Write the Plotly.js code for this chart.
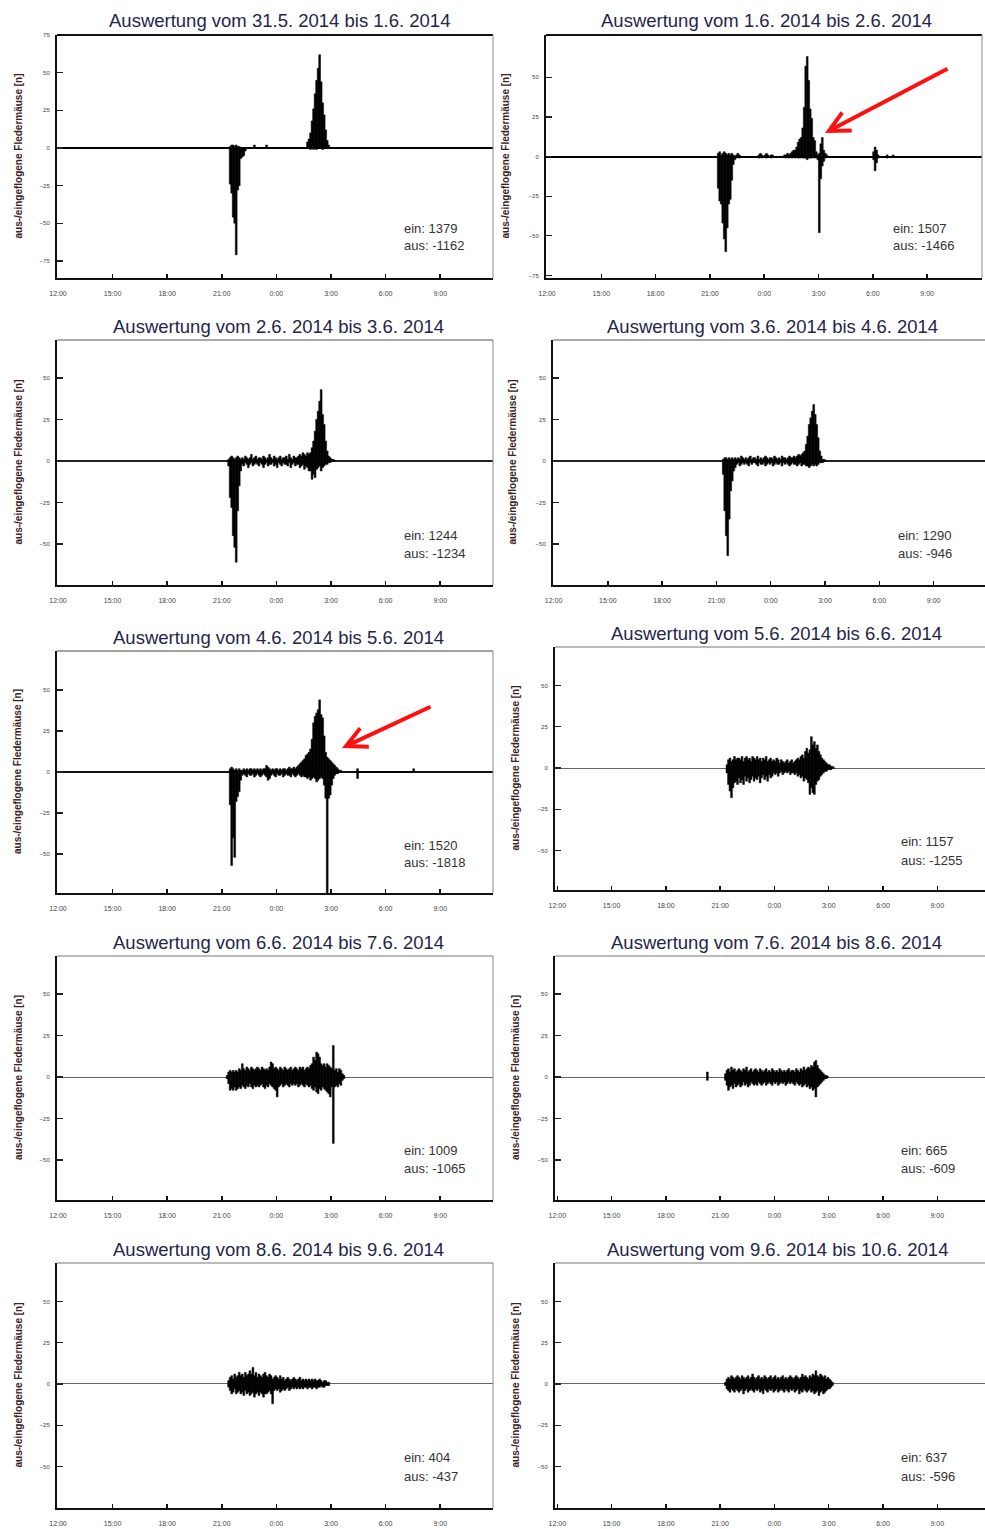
<!DOCTYPE html>
<html><head><meta charset="utf-8">
<script src="https://cdn.plot.ly/plotly-3.0.1.min.js"></script>
<style>html,body{margin:0;padding:0;overflow:hidden;background:#fff}#chart{width:1000px;height:1529px}</style>
</head><body><div id="chart"></div>
<script>
// ---------- data ----------
const tickHours = [0,3,6,9,12,15,18,21];
const tickLabels = ['12:00','15:00','18:00','21:00','0:00','3:00','6:00','9:00'];
const titles = [
 'Auswertung vom 31.5. 2014 bis 1.6. 2014','Auswertung vom 1.6. 2014 bis 2.6. 2014',
 'Auswertung vom 2.6. 2014 bis 3.6. 2014','Auswertung vom 3.6. 2014 bis 4.6. 2014',
 'Auswertung vom 4.6. 2014 bis 5.6. 2014','Auswertung vom 5.6. 2014 bis 6.6. 2014',
 'Auswertung vom 6.6. 2014 bis 7.6. 2014','Auswertung vom 7.6. 2014 bis 8.6. 2014',
 'Auswertung vom 8.6. 2014 bis 9.6. 2014','Auswertung vom 9.6. 2014 bis 10.6. 2014'];
const einTotals = [1379,1507,1244,1290,1520,1157,1009,665,404,637];
const ausTotals = [-1162,-1466,-1234,-946,-1818,-1255,-1065,-609,-437,-596];
const yLabel = 'aus-/eingeflogene Fledermäuse [n]';

// 5-minute bins, starting at the given clock time
const p1_start = '21:25';
const p1_ein = [1,2,2,1,2,1,1,0,0,0,0, 0,0,0,0,0,2,0,0,0,0,0,0,0,2,0,0,0,0,0,0, 0,0,0,0,0,0,0,0,0,0,0,0,0,0,0,0,0,0,0,0, 4,6,10,18,26,36,45,53,62,44,30,22,12,5,2];
const p1_aus = [-24,-30,-46,-50,-71,-28,-25,-7,-6,-5,-2, 0,0,0,0,0,0,0,0,0,0,0,0,0,0,0,0,0,0,0,0, 0,0,0,0,0,0,0,0,0,0,0,0,0,0,0,0,0,0,0,0, 0,0,-1,0,-1,0,-1,0,0,0,-1,0,0,0,0];

const p2_start = '21:25';
const p2_ein = [2,3,1,2,3,2,1,2,1,2,1,0, 1,2,1,0,0,0,0,0,0,0,0,0,0,0,0, 1,2,1,0,1,2,1,0,1,1,0, 0,0,0,0,0,0, 1,1,2,1, 2,3,4,4,6,9,11,12,18,31,57,63,48,30,24,12,10,3, 1,2,8,12,4,2,1];
const p2_aus = [-20,-28,-30,-42,-52,-60,-45,-30,-27,-15,-5,-2, -1,0,-1,0,0,0,0,0,0,0,0,0,0,0,0, -1,0,-1,0,0,-1,0,0,-1,0,0, 0,0,0,0,0,0, 0,-1,0,-1, 0,-1,0,-1,0,-1,-1,0,-1,-1,-1,-2,-1,-1,-1,0,-1,0, -2,-48,-14,-6,-3,-1,0];
const p2b_start = '6:00';
const p2b_ein = [3,6,4,1,0,0,0,0,0,1,0,0,0,1];
const p2b_aus = [-2,-9,-4,-1,0,0,0,0,0,-1,0,0,0,0];

const p3_start = '21:20';
const p3_ein = [1,2,3,2,1,2,3,2,1, 2,1,3,2,1,2,4,1,2,3,1,2,2,1,3,2,1,2,4,2,1,3,2,1,2,3,1,2,2,3,1,4,2,1,3,2,2,3,4,3,5,4,3,5,4, 5,8,12,18,25,30,36,43,28,22,12,6,3,2,1,1,0];
const p3_aus = [-3,-22,-28,-45,-52,-61,-30,-15,-6, -2,-3,-1,-2,-4,-2,-1,-3,-2,-1,-2,-3,-1,-2,-4,-2,-1,-3,-2,-2,-1,-3,-2,-4,-1,-2,-3,-1,-2,-2,-3,-1,-4,-2,-1,-3,-2,-2,-4,-3,-2,-5,-3,-4,-6, -6,-11,-8,-10,-5,-4,-3,-6,-4,-3,-2,-2,-1,-1,0,0,0];

const p4_start = '21:20';
const p4_ein = [1,2,2,1,2,1,2,1,2, 1,2,1,3,2,1,2,1,2,3,1,2,2,1,3,1,2,1,2,3,2,1,2,2,1,3,2,1,2,1,3,2,2,1,2,3,2,2,3,2,3,4,3,4,5, 6,10,15,22,26,30,34,28,22,14,6,3,1,1,0];
const p4_aus = [-8,-30,-45,-57,-35,-18,-12,-6,-4, -2,-1,-3,-2,-1,-2,-1,-2,-3,-1,-2,-1,-1,-2,-3,-1,-2,-2,-1,-3,-2,-1,-2,-1,-3,-2,-1,-2,-2,-1,-3,-1,-2,-1,-2,-3,-2,-1,-2,-2,-3,-2,-1,-3,-2,-2,-3, -3,-4,-3,-2,-3,-2,-3,-2,-1,-1,-1,0,0];

const p5_start = '21:25';
const p5_ein = [2,3,2,1,2,1,2,1, 1,2,1,2,1,2,2,1,2,1,2,1,2,1,2,2,4,3,2,1,2,1,2,2,1,2,1,2,2,1,2,3,2,2,3,2,3,4,5,6,7,8, 10,11,12,14,20,30,34,36,38,44,35,33,22, 12,9,8,7,6,5,4,3,2,1,1];
const p5_aus = [-20,-57,-40,-52,-18,-15,-12,-5, -2,-1,-2,-3,-1,-2,-2,-1,-3,-2,-1,-2,-3,-2,-1,-2,-3,-5,-4,-2,-1,-2,-3,-1,-2,-2,-1,-3,-2,-1,-2,-2,-3,-1,-2,-3,-2,-1,-2,-3,-2,-3, -3,-4,-3,-5,-4,-3,-4,-6,-5,-4,-3,-4,-8, -16,-80,-16,-14,-8,-4,-2,-1,-1,0,0];
const p5b_start = '4:25';
const p5b_ein = [2,0,0,0,0,0,0,0,0,0,0,0,0,0,0,0,0,0,0,0,0,0,0,0,0,0,0,0,0,0,0,0,0,0,0,0,0,2];
const p5b_aus = [-4,0,0,0,0,0,0,0,0,0,0,0,0,0,0,0,0,0,0,0,0,0,0,0,0,0,0,0,0,0,0,0,0,0,0,0,0,0];

const p6_start = '21:20';
const p6_ein = [2,5,6,4,5,7,5,6, 6,5,7,4,6,7,5,6,4,7,6,5, 7,5,6,4,6,5,7,4,5,6,4,5, 4,6,5,3,5,4,3,4,5,3,4,5, 3,4,5,6,5,7,8,6,10,12,9,11, 19,14,16,12,14,10,8,6, 5,4,3,2,2,1,1,0];
const p6_aus = [-3,-10,-14,-18,-12,-9,-8,-10, -6,-9,-7,-10,-5,-8,-6,-9,-7,-5,-8,-6, -7,-5,-9,-6,-4,-7,-5,-8,-4,-6,-5,-3, -4,-3,-5,-3,-2,-4,-3,-2,-3,-2,-4,-3, -3,-4,-3,-5,-4,-6,-5,-8,-6,-7,-9,-16, -12,-15,-16,-10,-8,-7,-5,-4, -3,-2,-2,-1,-1,-1,0,0];

const p7_start = '21:15';
const p7_ein = [1,3,4,3,4,3,4,3,5, 4,8,5,4,6,5,4,6,5,4,5,6, 5,4,6,5,4,5,4,6,9,8,5,6, 5,4,6,5,4,6,5,4,5,6,4,5, 6,5,4,6,5,6,4,5,6,5,7,8, 12,10,15,14,12,8,7,8,6,8,7,6, 5,19,4,5,3,5,4,2,1];
const p7_aus = [-1,-4,-8,-7,-8,-6,-8,-7,-6, -7,-5,-6,-7,-5,-6,-4,-6,-7,-5,-6,-5, -6,-5,-4,-6,-7,-5,-6,-4,-5,-6,-7,-8, -12,-6,-5,-4,-6,-5,-4,-5,-6,-4,-5,-4, -5,-4,-6,-5,-4,-5,-6,-4,-5,-6,-5,-7, -8,-6,-9,-10,-7,-8,-6,-7,-8,-9,-10,-12, -6,-40,-6,-5,-6,-4,-5,-2,-1];

const p8_start = '21:15';
const p8_ein = [2,4,5,3,6,4,5,3,4, 5,4,3,5,4,6,3,4,5,3,4,5, 4,3,5,4,3,4,5,3,4,3,5,4, 3,4,3,5,4,3,4,3,4,5,3,4, 4,3,5,4,3,5,4,6,4,5,6,5, 7,6,9,10,7,5,4,3,2,1,1,0];
const p8_aus = [-2,-5,-8,-6,-5,-7,-4,-6,-5, -4,-6,-5,-3,-5,-4,-6,-5,-3,-4,-5,-4, -5,-3,-4,-5,-4,-3,-5,-4,-3,-4,-5,-3, -4,-3,-5,-4,-3,-4,-3,-5,-4,-3,-4,-3, -4,-5,-3,-4,-5,-4,-6,-5,-4,-6,-5,-7, -6,-8,-7,-12,-6,-5,-4,-3,-2,-1,-1,0];
const p8b_start = '20:15';
const p8b_ein = [3];
const p8b_aus = [-2];

const p9_start = '21:20';
const p9_ein = [2,4,5,3,6,4,5,7, 5,6,4,7,5,6,8,6,10,5,7,4, 6,5,4,6,7,5,4,6,5,3,4,5, 4,3,5,3,4,2,3,4,3,2,3,4, 3,2,3,4,2,3,2,3,2,3,2,3, 2,3,2,2,3,2,1,2,2,1,1];
const p9_aus = [-2,-4,-6,-5,-3,-6,-5,-4, -6,-5,-7,-4,-6,-5,-7,-6,-5,-8,-6,-5, -7,-5,-6,-8,-6,-6,-5,-4,-6,-12,-4,-3, -4,-3,-5,-4,-3,-4,-3,-2,-4,-3,-2,-3, -2,-3,-2,-3,-2,-3,-2,-2,-3,-2,-2,-3, -2,-2,-3,-2,-2,-1,-2,-2,-1,-1,-1];

const p10_start = '21:15';
const p10_ein = [1,3,4,3,5,4,3,4,5, 4,3,5,4,3,4,5,3,4,6,4,3, 4,5,3,4,3,5,4,3,4,5,3,4, 5,3,4,3,4,5,3,4,3,4,5,4, 3,4,5,4,3,4,6,4,5,4,3,5, 4,6,5,8,5,4,6,5,4,5,3,4, 3,2,1];
const p10_aus = [-1,-3,-4,-5,-3,-4,-5,-3,-4, -5,-4,-3,-6,-4,-3,-5,-4,-3,-4,-5,-3, -4,-3,-5,-4,-6,-3,-4,-5,-3,-4,-3,-5, -4,-3,-5,-4,-3,-4,-5,-3,-4,-5,-3,-4, -3,-5,-4,-3,-6,-4,-5,-3,-4,-5,-4,-3, -5,-4,-6,-5,-4,-7,-5,-4,-6,-5,-4,-3, -3,-2,-1];

const panelSegments = [
 [[p1_start,p1_ein,p1_aus]],
 [[p2_start,p2_ein,p2_aus],[p2b_start,p2b_ein,p2b_aus]],
 [[p3_start,p3_ein,p3_aus]],
 [[p4_start,p4_ein,p4_aus]],
 [[p5_start,p5_ein,p5_aus],[p5b_start,p5b_ein,p5b_aus]],
 [[p6_start,p6_ein,p6_aus]],
 [[p7_start,p7_ein,p7_aus]],
 [[p8_start,p8_ein,p8_aus],[p8b_start,p8b_ein,p8b_aus]],
 [[p9_start,p9_ein,p9_aus]],
 [[p10_start,p10_ein,p10_aus]]
];

// ---------- layout geometry (pixels) ----------
const W = 1000, H = 1529;
const yt5 = [-50,-25,0,25,50];
const geom = [
 {x:[57,493], y:[35,278],  yr:[-86.4,75.1], xr:[-0.055,23.9], yt:[-75,-50,-25,0,25,50,75], zw:2,   zc:'#000', top:['#111',2], lab:18,  ttl:[279,20],  txt:[402,228,246]},
 {x:[546,982],y:[35,278],  yr:[-76.6,76.6], xr:[-0.055,24.03],yt:[-75,-50,-25,0,25,50],    zw:2,   zc:'#000', top:['#111',2], lab:505, ttl:[766,20],  txt:[891,228,246]},
 {x:[57,493], y:[340,585], yr:[-74.7,72.9], xr:[-0.055,23.9], yt:yt5, zw:1.3, zc:'#222', top:['#555',1], lab:18,  ttl:[278,326], txt:[402,535,553]},
 {x:[553,989],y:[340,585], yr:[-74.7,72.9], xr:[-0.03,24.06], yt:yt5, zw:1.3, zc:'#222', top:['#555',1], lab:512, ttl:[772,326], txt:[896,535,553]},
 {x:[57,493], y:[651,893], yr:[-73.8,73.8], xr:[-0.055,23.9], yt:yt5, zw:1.6, zc:'#111', top:['#444',1.2], lab:18, ttl:[278,637], txt:[402,845,862]},
 {x:[555,991],y:[647,890], yr:[-74,73.4],   xr:[-0.13,23.97], yt:yt5, zw:1,   zc:'#666', top:['#777',1], lab:515, ttl:[776,633], txt:[899,842,860]},
 {x:[57,493], y:[956,1200],yr:[-74.1,72.9], xr:[-0.055,23.9], yt:yt5, zw:1,   zc:'#666', top:['#777',1], lab:18,  ttl:[278,942], txt:[402,1150,1168]},
 {x:[555,991],y:[956,1200],yr:[-74.1,72.9], xr:[-0.13,23.97], yt:yt5, zw:1,   zc:'#666', top:['#777',1], lab:515, ttl:[776,942], txt:[899,1150,1168]},
 {x:[57,493], y:[1263,1508],yr:[-75.2,73.3],xr:[-0.055,23.9], yt:yt5, zw:1,   zc:'#666', top:['#777',1], lab:18,  ttl:[278,1249], txt:[402,1457,1476]},
 {x:[555,991],y:[1263,1508],yr:[-75.2,73.3],xr:[-0.13,23.97], yt:yt5, zw:1,   zc:'#666', top:['#777',1], lab:515, ttl:[777,1249], txt:[899,1457,1476]}
];

function toH(s){const p=s.split(':').map(Number);let h=p[0]+p[1]/60-12;if(h<0)h+=24;return h;}
const px = v => v/W, py = v => 1 - v/H;
const FONT = 'Liberation Sans, Arial, sans-serif';

const traces = [];
const layout = {
 width: W, height: H, margin:{l:0,r:0,t:0,b:0}, showlegend:false,
 paper_bgcolor:'#fff', plot_bgcolor:'#fff', barmode:'overlay', bargap:0,
 annotations:[], shapes:[]
};

geom.forEach((g,k)=>{
 const n = k+1, xs = n===1?'x':'x'+n, ys = n===1?'y':'y'+n;
 panelSegments[k].forEach(seg=>{
  const h0 = toH(seg[0]);
  const xv = seg[1].map((_,i)=>h0+(i+0.5)/12);
  [seg[1],seg[2]].forEach(vals=>{
   traces.push({type:'bar', x:xv, y:vals, xaxis:xs, yaxis:ys, width:1.2/12,
     marker:{color:'#000', line:{width:0.5,color:'#000'}}, hoverinfo:'skip'});
  });
 });
 layout['xaxis'+(n===1?'':n)] = {
  domain:[px(g.x[0]),px(g.x[1])], anchor:ys, range:g.xr, showgrid:false, zeroline:false,
  tickmode:'array', tickvals:tickHours, ticktext:tickLabels, ticks:'inside', ticklen:4, tickwidth:1.5, tickcolor:'#111',
  showline:true, linecolor:'#111', linewidth:2, tickfont:{family:FONT,size:7,color:'#444'}, ticklabelstandoff:8, fixedrange:true
 };
 layout['yaxis'+(n===1?'':n)] = {
  domain:[py(g.y[1]),py(g.y[0])], anchor:xs, range:g.yr, showgrid:false,
  zeroline:true, zerolinecolor:g.zc, zerolinewidth:g.zw,
  tickmode:'array', tickvals:g.yt, ticks:'inside', ticklen:6, tickwidth:1.3, tickcolor:'#222',
  showline:true, linecolor:'#111', linewidth:2, tickfont:{family:FONT,size:6,color:'#444'}, ticklabelstandoff:4, fixedrange:true
 };
 layout.shapes.push({type:'line', xref:xs+' domain', yref:ys+' domain', x0:0,x1:1,y0:1,y1:1, line:{color:g.top[0],width:g.top[1]}});
 layout.shapes.push({type:'line', xref:xs+' domain', yref:ys+' domain', x0:1,x1:1,y0:0,y1:1, line:{color:'#888',width:1}});
 layout.annotations.push({xref:'paper',yref:'paper',x:px(g.ttl[0]),y:py(g.ttl[1]),xanchor:'center',yanchor:'middle',
   text:titles[k], showarrow:false, font:{family:FONT,size:18.5,color:'#23264a'}});
 layout.annotations.push({xref:'paper',yref:'paper',x:px(g.txt[0]),y:py(g.txt[1]),xanchor:'left',yanchor:'middle',
   text:'ein: '+einTotals[k], showarrow:false, font:{family:FONT,size:13,color:'#333'}});
 layout.annotations.push({xref:'paper',yref:'paper',x:px(g.txt[0]),y:py(g.txt[2]),xanchor:'left',yanchor:'middle',
   text:'aus: '+ausTotals[k], showarrow:false, font:{family:FONT,size:13,color:'#333'}});
 layout.annotations.push({xref:'paper',yref:'paper',x:px(g.lab),y:py((g.y[0]+g.y[1])/2),xanchor:'center',yanchor:'middle',
   text:'<b>'+yLabel+'</b>', textangle:-90, showarrow:false, font:{family:FONT,size:10,color:'#3a2222'}});
});

// red arrows
layout.annotations.push({xref:'paper',yref:'paper',x:px(825),y:py(133),ax:124,ay:-65,text:'',showarrow:true,
  arrowhead:5,arrowsize:1,arrowwidth:4,arrowcolor:'#ff1010',standoff:0});
layout.annotations.push({xref:'paper',yref:'paper',x:px(342),y:py(748),ax:90,ay:-42,text:'',showarrow:true,
  arrowhead:5,arrowsize:1,arrowwidth:4,arrowcolor:'#ff1010',standoff:0});

Plotly.newPlot('chart', traces, layout, {staticPlot:true, displayModeBar:false});
</script>
</body></html>
